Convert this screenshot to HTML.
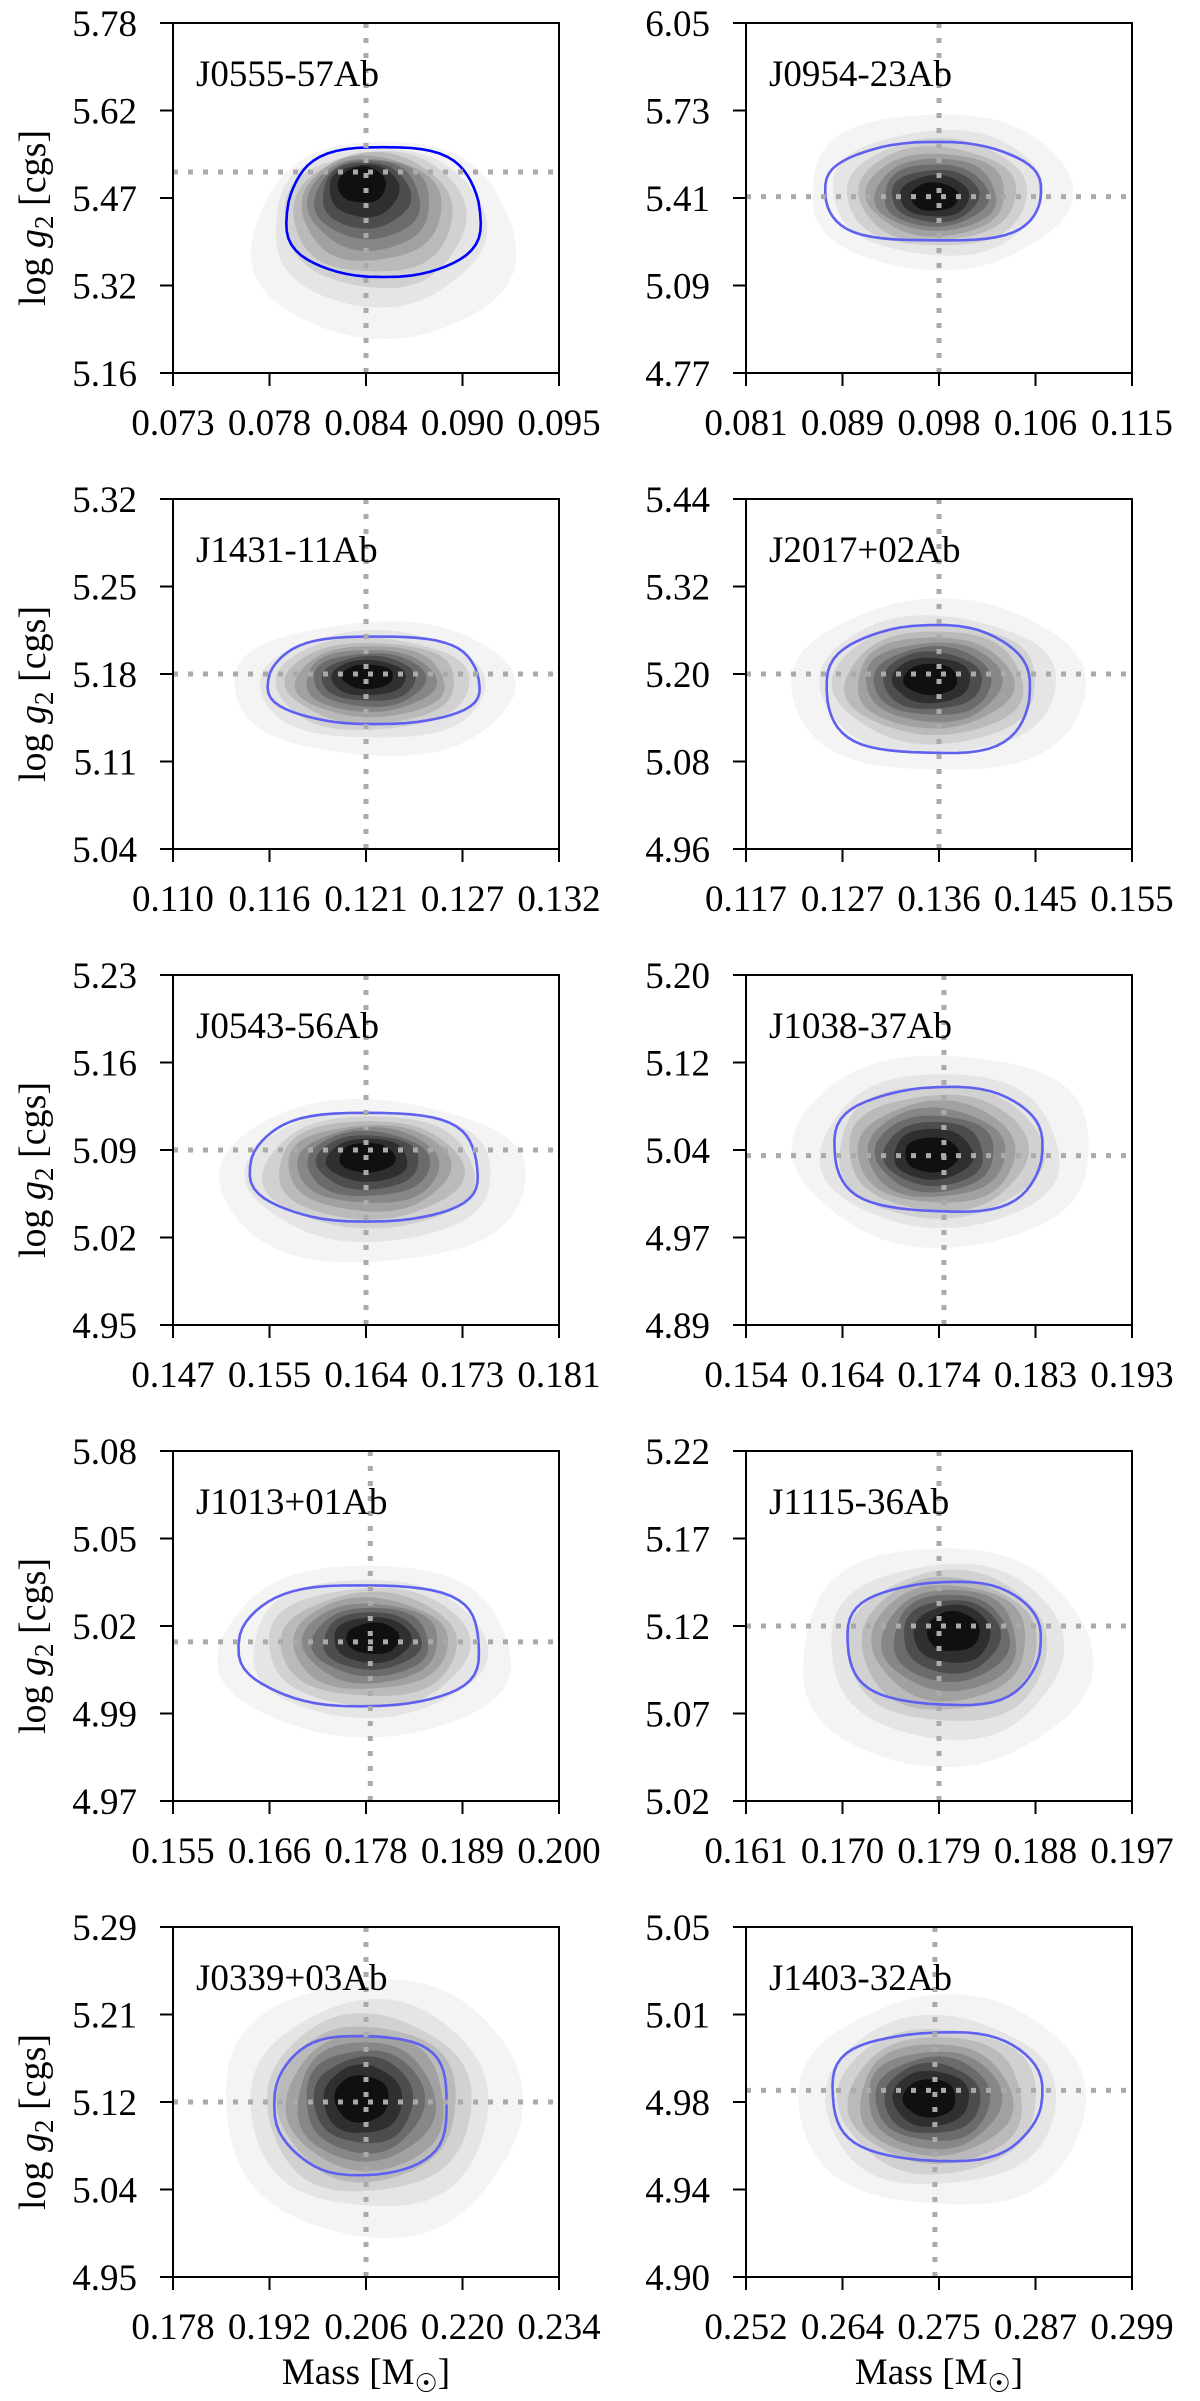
<!DOCTYPE html>
<html><head><meta charset="utf-8"><style>
html,body{margin:0;padding:0;background:#fff}
svg{display:block}
text{font-family:"Liberation Serif",serif;fill:#000}
</style></head><body>
<svg id="fig" width="1200" height="2401" viewBox="0 0 1200 2401" xmlns="http://www.w3.org/2000/svg"></svg>
<script>
const names = ["J0555-57Ab","J0954-23Ab","J1431-11Ab","J2017+02Ab","J0543-56Ab","J1038-37Ab","J1013+01Ab","J1115-36Ab","J0339+03Ab","J1403-32Ab"];
const xTicks = [
 ["0.073","0.078","0.084","0.090","0.095"],["0.081","0.089","0.098","0.106","0.115"],
 ["0.110","0.116","0.121","0.127","0.132"],["0.117","0.127","0.136","0.145","0.155"],
 ["0.147","0.155","0.164","0.173","0.181"],["0.154","0.164","0.174","0.183","0.193"],
 ["0.155","0.166","0.178","0.189","0.200"],["0.161","0.170","0.179","0.188","0.197"],
 ["0.178","0.192","0.206","0.220","0.234"],["0.252","0.264","0.275","0.287","0.299"]];
const yTicks = [
 ["5.16","5.32","5.47","5.62","5.78"],["4.77","5.09","5.41","5.73","6.05"],
 ["5.04","5.11","5.18","5.25","5.32"],["4.96","5.08","5.20","5.32","5.44"],
 ["4.95","5.02","5.09","5.16","5.23"],["4.89","4.97","5.04","5.12","5.20"],
 ["4.97","4.99","5.02","5.05","5.08"],["5.02","5.07","5.12","5.17","5.22"],
 ["4.95","5.04","5.12","5.21","5.29"],["4.90","4.94","4.98","5.01","5.05"]];
const refX = [0.084,0.098,0.121,0.136,0.164,0.174,0.178,0.179,0.206,0.275];
const refY = [5.516,5.415,5.18,5.20,5.09,5.04,5.02,5.12,5.12,4.98];
const peakX = [0.0835,0.0975,0.121,0.135,0.164,0.1725,0.1785,0.1805,0.205,0.274];
const peakY = [5.515,5.41,5.18,5.195,5.088,5.04,5.022,5.12,5.125,4.977];
// outer density extents [left,right,bottom,top]
const outerBox = [[0.0775,0.0925,5.22,5.57],[0.0865,0.1095,5.15,5.72],[0.1135,0.1295,5.115,5.222],[0.1215,0.1505,5.065,5.30],
 [0.151,0.178,5.00,5.13],[0.159,0.189,4.96,5.13],[0.1605,0.1945,4.99,5.044],[0.166,0.193,5.04,5.165],[0.1855,0.2285,4.99,5.24],[0.2585,0.2935,4.93,5.02]];
// blue contour extents [left,right,bottom,top]
const blueBox = [[0.0795,0.0905,5.33,5.56],[0.088,0.107,5.25,5.61],[0.1155,0.1275,5.14,5.21],[0.125,0.145,5.09,5.265],
 [0.154,0.174,5.033,5.12],[0.163,0.184,4.99,5.10],[0.163,0.191,5.00,5.038],[0.1705,0.1885,5.075,5.145],[0.193,0.218,5.05,5.185],[0.2625,0.288,4.95,5.005]];

const NS="http://www.w3.org/2000/svg";
const svg=document.getElementById('fig');
function mk(tag,attrs,parent){const e=document.createElementNS(NS,tag);for(const k in attrs)e.setAttribute(k,attrs[k]);(parent||svg).appendChild(e);return e;}
const BW=386,BH=350,LX=[173,746],TOP0=23,PITCH=476;

function shapePath(cx,cy,hw,hh,wob,seed,p){
  let d="";const N=60;
  for(let i=0;i<=N;i++){
    const a=i/N*2*Math.PI, c=Math.cos(a), s=Math.sin(a);
    const w=1+wob*Math.sin(5*a+seed)*0.5+wob*Math.sin(3*a+seed*2)*0.5;
    const sc=Math.sign(c)*Math.pow(Math.abs(c),p), ss=Math.sign(s)*Math.pow(Math.abs(s),p);
    d+=(i?"L":"M")+(cx+hw*sc*w).toFixed(1)+","+(cy+hh*ss*w).toFixed(1);
  }
  return d+"Z";
}

names.forEach((nm,i)=>{
  const col=i%2,row=Math.floor(i/2);
  const x0=LX[col],y0=TOP0+row*PITCH;
  const xl=+xTicks[i][0],xh=+xTicks[i][4],yl=+yTicks[i][0],yh=+yTicks[i][4];
  const sx=v=>x0+(v-xl)/(xh-xl)*BW;
  const sy=v=>y0+BH-(v-yl)/(yh-yl)*BH;
  const g=mk('g',{});
  
  
  const clipId='clip'+i;
  const cp=mk('clipPath',{id:clipId},g);mk('rect',{x:x0,y:y0,width:BW,height:BH},cp);
  const dens=mk('g',{'clip-path':'url(#'+clipId+')'},g);
  
  
  const ob=outerBox[i], px=sx(peakX[i]), py=sy(peakY[i]);
  const L=10;
  const ocx=(sx(ob[0])+sx(ob[1]))/2, ocy=(sy(ob[3])+sy(ob[2]))/2;
  for(let k=0;k<L;k++){
    const dk=0.05+k*0.095;
    const f=Math.sqrt(-Math.log(dk))/Math.sqrt(-Math.log(0.05));
    const cx=px+(ocx-px)*f, cy=py+(ocy-py)*f;
    const hw=(sx(ob[1])-sx(ob[0]))/2*f, hh=(sy(ob[2])-sy(ob[3]))/2*f;
    const gv=Math.round(244-228*Math.pow(k/(L-1),1.25));
    const p=mk('path',{d:shapePath(cx,cy,hw,hh,0.035,i+k,0.95),fill:`rgb(${gv},${gv},${gv})`},dens);
    
    
  }
  const bb=blueBox[i];
  const bcx=(sx(bb[0])+sx(bb[1]))/2, bcy=(sy(bb[3])+sy(bb[2]))/2;
  const bl=mk('path',{d:shapePath(bcx,bcy,(sx(bb[1])-sx(bb[0]))/2,(sy(bb[2])-sy(bb[3]))/2,0.03,i*3,0.8),fill:'none',stroke:i===0?'#0000ff':'#5f5ff0','stroke-width':2.6},g);
  
  
  const rv=mk('line',{x1:sx(refX[i]),x2:sx(refX[i]),y1:y0,y2:y0+BH,stroke:'#aaa','stroke-width':5,'stroke-dasharray':'5 10'},g);
  
  
  const rh=mk('line',{x1:x0,x2:x0+BW,y1:sy(refY[i]),y2:sy(refY[i]),stroke:'#aaa','stroke-width':5,'stroke-dasharray':'5 10'},g);
  
  
  const fr=mk('rect',{x:x0,y:y0,width:BW,height:BH,fill:'none',stroke:'#000','stroke-width':2},g);
  
  
  for(let t=0;t<5;t++){
    const tx=x0+t*BW/4;
    mk('line',{x1:tx,x2:tx,y1:y0+BH,y2:y0+BH+13,stroke:'#000','stroke-width':2},g);
    const xt=mk('text',{x:tx,y:y0+BH+62,'font-size':37,'text-anchor':'middle'},g);
    xt.textContent=xTicks[i][t];
    
    
    const ty=y0+BH-t*BH/4;
    mk('line',{x1:x0-13,x2:x0,y1:ty,y2:ty,stroke:'#000','stroke-width':2},g);
    const yt=mk('text',{x:x0-36,y:ty+13,'font-size':37,'text-anchor':'end'},g);
    yt.textContent=yTicks[i][t];
    
    
  }
  const ti=mk('text',{x:x0+23,y:y0+63,'font-size':37},g);
  ti.textContent=nm;
  
  
  if(col===0){
    const yc=y0+BH/2+20;
    const yl2=mk('text',{x:0,y:0,'font-size':38,'text-anchor':'middle',transform:`translate(45,${yc}) rotate(-90)`},g);
    yl2.innerHTML='log <tspan font-style="italic">g</tspan><tspan font-size="27" dy="8">2</tspan><tspan dy="-8"> [cgs]</tspan>';
    
    
  }
  if(row===4){
    const xl2=mk('text',{x:x0+BW/2,y:y0+BH+107,'font-size':37,'text-anchor':'middle'},g);
    xl2.innerHTML='Mass [M<tspan font-size="26" dy="8">☉</tspan><tspan dy="-8">]</tspan>';
    
    
  }
});
</script>
</body></html>
